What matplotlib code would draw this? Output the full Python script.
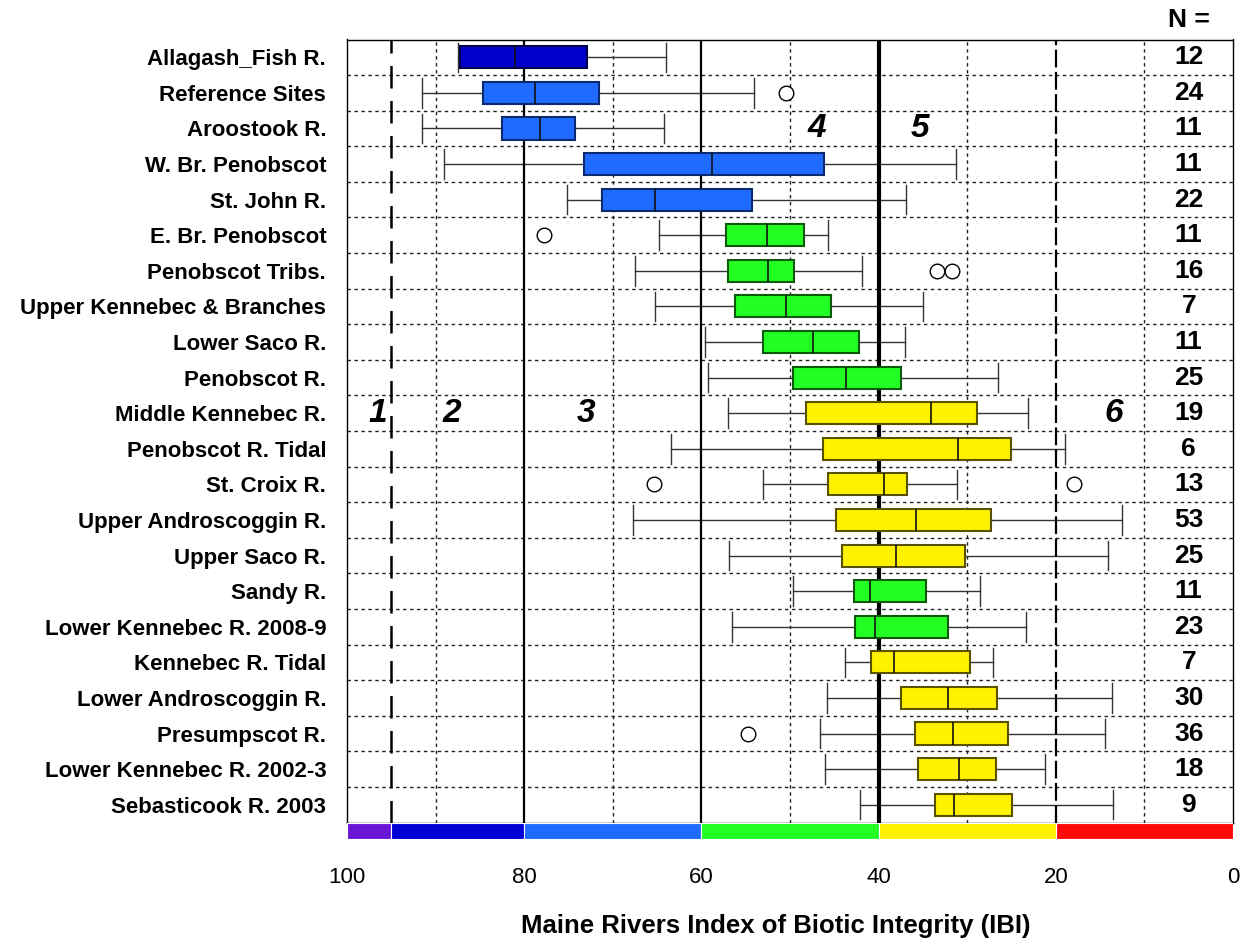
import matplotlib
matplotlib.use("Agg")
import matplotlib.pyplot as plt
import numpy as np

plt.rcParams['font.family'] = ['Liberation Sans', 'DejaVu Sans']

# ---------------- data ----------------
sites = ["Allagash_Fish R.", "Reference Sites", "Aroostook R.", "W. Br. Penobscot",
         "St. John R.", "E. Br. Penobscot", "Penobscot Tribs.", "Upper Kennebec & Branches",
         "Lower Saco R.", "Penobscot R.", "Middle Kennebec R.", "Penobscot R. Tidal",
         "St. Croix R.", "Upper Androscoggin R.", "Upper Saco R.", "Sandy R.",
         "Lower Kennebec R. 2008-9", "Kennebec R. Tidal", "Lower Androscoggin R.",
         "Presumpscot R.", "Lower Kennebec R. 2002-3", "Sebasticook R. 2003"]
n_values = [12, 24, 11, 11, 22, 11, 16, 7, 11, 25, 19, 6, 13, 53, 25, 11, 23, 7, 30, 36, 18, 9]
whisker_hi = [87.5, 91.5, 91.5, 89.0, 75.2, 64.8, 67.5, 65.2, 59.6, 59.2, 57.0, 63.4,
              53.1, 67.7, 56.9, 49.7, 56.5, 43.8, 45.8, 46.6, 46.0, 42.1]
q3 = [87.2, 84.6, 82.5, 73.3, 71.2, 57.2, 57.0, 56.2, 53.1, 49.7, 48.2, 46.3,
      45.7, 44.8, 44.1, 42.8, 42.7, 40.9, 37.5, 35.9, 35.6, 33.6]
median = [81.0, 78.8, 78.2, 58.8, 65.2, 52.6, 52.5, 50.5, 47.4, 43.7, 34.1, 31.0,
          39.4, 35.8, 38.0, 41.0, 40.4, 38.3, 32.2, 31.6, 30.9, 31.5]
q1 = [72.9, 71.6, 74.3, 46.2, 54.3, 48.4, 49.5, 45.4, 42.2, 37.5, 28.9, 25.1,
      36.8, 27.3, 30.3, 34.6, 32.2, 29.7, 26.6, 25.4, 26.8, 24.9]
whisker_lo = [64.0, 54.1, 64.2, 31.3, 36.9, 45.7, 41.9, 35.0, 37.0, 26.5, 23.1, 19.0,
              31.1, 12.5, 14.1, 28.5, 23.4, 27.1, 13.7, 14.4, 21.2, 13.6]
outliers = [[], [50.5], [], [], [], [77.8], [33.4, 31.7], [], [], [], [], [],
            [65.3, 18.0], [], [], [], [], [], [], [54.7], [], []]
box_class = [2, 3, 3, 3, 3, 4, 4, 4, 4, 4, 5, 5, 5, 5, 5, 4, 4, 5, 5, 5, 5, 5]
class_labels = ["1", "2", "3", "4", "5", "6"]
class_label_x = [96.5, 88.2, 73.0, 47.0, 35.3, 13.5]
class_label_row = [10, 10, 10, 2, 2, 10]
band_edges = [100, 95, 80, 60, 40, 20, 0]
xticks = [100, 80, 60, 40, 20, 0]

# ---------------- style ----------------
class_face = {1: "#6a16d6", 2: "#0000cc", 3: "#1f6bff", 4: "#22ff22", 5: "#fff200", 6: "#ff0a0a"}
class_edge = {2: "#00004a", 3: "#0a2a70", 4: "#0a5a0a", 5: "#5a5200"}
band_colors = ["#6a16d6", "#0000d6", "#1f6bff", "#22ff22", "#fff200", "#ff0a0a"]

W, H = 1241, 940
fig = plt.figure(figsize=(W / 100, H / 100), dpi=100)
x0, x1 = 347 / W, 1233 / W
ytop, ybot = 39.5, 822.5
ax = fig.add_axes([x0, 1 - ybot / H, x1 - x0, (ybot - ytop) / H])
cb = fig.add_axes([x0, 1 - 839 / H, x1 - x0, (839 - 823) / H])

n = len(sites)
pos = np.arange(n)
stats = []
for i in range(n):
    stats.append(dict(med=median[i], q1=q1[i], q3=q3[i], whislo=whisker_lo[i],
                      whishi=whisker_hi[i], fliers=outliers[i], label=sites[i]))

bp = ax.bxp(stats, positions=pos, widths=0.62, capwidths=0.83, orientation='horizontal',
            patch_artist=True, showfliers=True,
            whiskerprops=dict(color="#333333", lw=1.0),
            capprops=dict(color="#333333", lw=1.0),
            medianprops=dict(color="#111111", lw=1.2),
            flierprops=dict(marker='o', markerfacecolor='white', markeredgecolor='black',
                            markersize=10.5, markeredgewidth=1.0, linestyle='none'))
for patch, c in zip(bp['boxes'], box_class):
    patch.set_facecolor(class_face[c])
    patch.set_edgecolor(class_edge[c])
    patch.set_linewidth(1.5)
    patch.set_zorder(3)
for m in bp['medians']:
    m.set_zorder(4)

ax.set_xlim(100, 0)
ax.set_ylim(n - 0.5, -0.5)

# grid lines
for v in [90, 70, 50, 30, 10]:
    ax.axvline(v, color="#222222", lw=1.0, ls=(0, (2.5, 2.5)), zorder=1)
for k in range(n - 1):
    ax.axhline(k + 0.5, color="#222222", lw=1.0, ls=(0, (2.5, 2.5)), zorder=1)
ax.axvline(80, color="black", lw=1.6, zorder=2)
ax.axvline(60, color="black", lw=1.6, zorder=2)
ax.axvline(40, color="black", lw=3.0, zorder=2)
ax.axvline(20, color="black", lw=1.6, ls=(0, (8, 2)), zorder=2)
ax.axvline(95, color="black", lw=1.8, ls=(0, (9, 5)), zorder=2)

ax.set_yticks(pos)
ax.set_yticklabels(sites, fontsize=16, fontweight='bold')
ax.tick_params(axis='y', length=0, pad=15)
ax.set_xticks([])
for s in ax.spines.values():
    s.set_linewidth(1.0)

# N values
for i in range(n):
    ax.text(5, pos[i], str(n_values[i]), ha='center', va='center', fontsize=19,
            fontweight='bold', zorder=5)
ax.text(5, -1.05, "N =", ha='center', va='center', fontsize=19, fontweight='bold',
        clip_on=False)

# class labels
for lab, xv, r in zip(class_labels, class_label_x, class_label_row):
    ax.text(xv, r, lab, ha='center', va='center', fontsize=24, fontweight='bold',
            style='italic', zorder=5)

# colour bar
for j in range(len(band_colors)):
    cb.barh(0, band_edges[j + 1] - band_edges[j], left=band_edges[j], height=1,
            color=band_colors[j], edgecolor='white', lw=0.8)
cb.set_xlim(100, 0)
cb.set_ylim(-0.5, 0.5)
cb.set_yticks([])
cb.set_xticks(xticks)
cb.set_xticklabels([str(t) for t in xticks], fontsize=16)
cb.tick_params(axis='x', length=0, pad=20)
for s in cb.spines.values():
    s.set_visible(False)
cb.set_xlabel("Maine Rivers Index of Biotic Integrity (IBI)", fontsize=18.5,
              fontweight='bold')
cb.xaxis.set_label_coords(0.484, -4.7)

fig.savefig("out.png", dpi=100)
